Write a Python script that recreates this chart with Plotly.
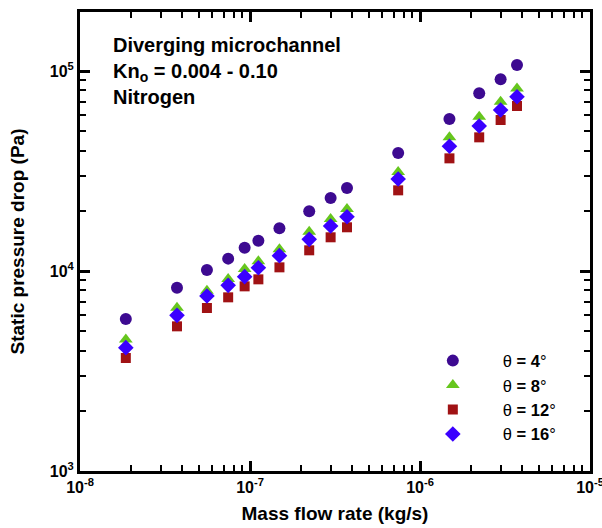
import plotly.graph_objects as go

mass_flow = [1.86e-8, 3.72e-8, 5.58e-8, 7.44e-8, 9.3e-8, 1.12e-7, 1.49e-7, 2.23e-7,
             2.98e-7, 3.72e-7, 7.44e-7, 1.49e-6, 2.23e-6, 2.98e-6, 3.72e-6]
dp_4 = [5754, 8254, 10116, 11530, 13085, 14180, 16340, 19880, 23170, 26000,
        38900, 57500, 77300, 90900, 107150]
dp_8 = [4550, 6557, 7974, 9120, 10233, 11180, 12830, 15730, 18200, 20420,
        31260, 46600, 59100, 70260, 81850]
dp_12 = [3673, 5288, 6531, 7385, 8380, 9085, 10430, 12690, 14740, 16540,
         25310, 36580, 46590, 56880, 66830]
dp_16 = [4137, 6000, 7499, 8478, 9369, 10390, 11930, 14400, 16790, 18690,
         28840, 42020, 53090, 63830, 74400]

series_names = ["θ <b>= 4</b>°", "θ <b>= 8</b>°", "θ <b>= 12</b>°", "θ <b>= 16</b>°"]
x_tick_vals = [1e-8, 1e-7, 1e-6, 1e-5]
x_tick_text = ["10<sup>-8</sup>", "10<sup>-7</sup>", "10<sup>-6</sup>", "10<sup>-5</sup>"]
y_tick_vals = [1e3, 1e4, 1e5]
y_tick_text = ["10<sup>3</sup>", "10<sup>4</sup>", "10<sup>5</sup>"]

styles = [
    dict(symbol="circle", color="#3D0A91", size=12),
    dict(symbol="triangle-up", color="#66C61E", size=12),
    dict(symbol="square", color="#A01214", size=10),
    dict(symbol="diamond", color="#3A00FF", size=12),
]

fig = go.Figure()
for name, ys, st in zip(series_names, [dp_4, dp_8, dp_12, dp_16], styles):
    fig.add_trace(go.Scatter(
        x=mass_flow, y=ys, mode="markers", name=name,
        marker=dict(symbol=st["symbol"], color=st["color"], size=st["size"],
                    line=dict(width=0)),
    ))

font_family = "Liberation Sans, Arial"
axis_common = dict(
    type="log", showgrid=False, zeroline=False, automargin=False,
    showline=True, linecolor="black", linewidth=3, mirror="ticks",
    ticks="inside", ticklen=10, tickwidth=3, tickcolor="black",
    ticklabeloverflow="allow",
    minor=dict(ticks="inside", ticklen=6, tickwidth=2, tickcolor="black",
               dtick="D1", showgrid=False),
    tickfont=dict(family=font_family, size=16, color="black", weight="bold"),
)

fig.update_xaxes(**axis_common, range=[-8, -5], tickmode="array",
                 tickvals=x_tick_vals, ticktext=x_tick_text,
                 title=dict(text="<b>Mass flow rate (kg/s)</b>", standoff=12,
                            font=dict(family=font_family, size=19, color="black")))
fig.update_yaxes(**axis_common, range=[3, 5.295], tickmode="array",
                 tickvals=y_tick_vals, ticktext=y_tick_text,
                 title=dict(text="<b>Static pressure drop (Pa)</b>", standoff=21,
                            font=dict(family=font_family, size=19, color="black")))

fig.add_annotation(
    xref="paper", yref="paper", x=0.061, y=0.956, xanchor="left", yanchor="top",
    showarrow=False, align="left",
    text="<b>Diverging microchannel<br>Kn<sub>o</sub> = 0.004 - 0.10<br>Nitrogen</b>",
    font=dict(family=font_family, size=20, color="black"),
)

fig.update_layout(
    width=602, height=528,
    margin=dict(l=80, r=12, t=12, b=57),
    paper_bgcolor="white", plot_bgcolor="white",
    legend=dict(x=0.633, y=0.278, xanchor="left", yanchor="top",
                bgcolor="rgba(0,0,0,0)", itemwidth=90,
                font=dict(family=font_family, size=16.5, color="black")),
)

fig.write_html("out.html")
